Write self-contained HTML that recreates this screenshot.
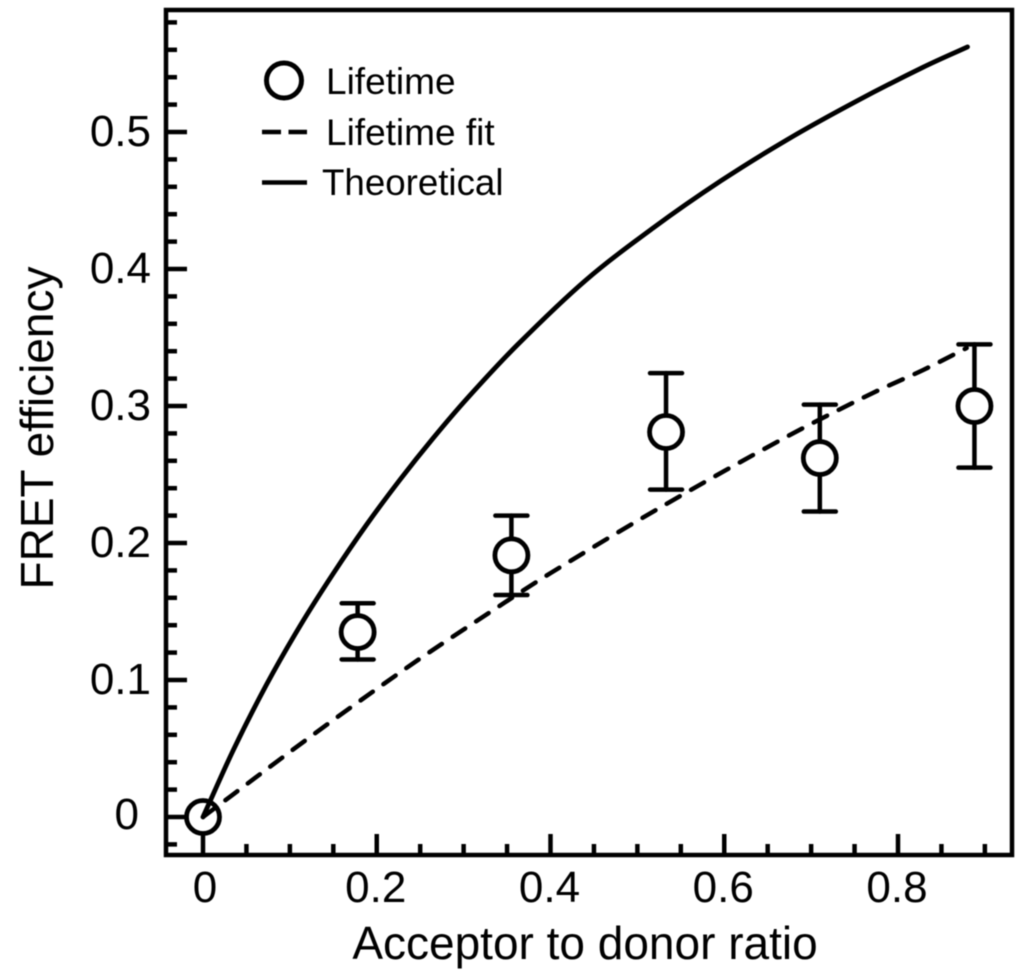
<!DOCTYPE html>
<html lang="en">
<head>
<meta charset="utf-8">
<title>FRET efficiency vs acceptor to donor ratio</title>
<style>
html,body{margin:0;padding:0;background:#fff;width:1024px;height:976px;overflow:hidden}
svg{display:block;filter:blur(0.5px)}
text{font-family:"Liberation Sans",sans-serif;fill:#000}
</style>
</head>
<body>
<svg id="chart" xmlns="http://www.w3.org/2000/svg" width="1024" height="976" viewBox="0 0 1024 976"></svg>
<script>
const xMajorTicks = [0, 0.2, 0.4, 0.6, 0.8];
const xMajorLabels = ["0", "0.2", "0.4", "0.6", "0.8"];
const xMinorTicks = [0.05, 0.1, 0.15, 0.25, 0.3, 0.35, 0.45, 0.5, 0.55, 0.65, 0.7, 0.75, 0.85, 0.9];
const yMajorTicks = [0, 0.1, 0.2, 0.3, 0.4, 0.5];
const yMajorLabels = ["0", "0.1", "0.2", "0.3", "0.4", "0.5"];
const yMinorTicks = [-0.02, 0.02, 0.04, 0.06, 0.08, 0.12, 0.14, 0.16, 0.18, 0.22, 0.24, 0.26, 0.28, 0.32, 0.34, 0.36, 0.38, 0.42, 0.44, 0.46, 0.48, 0.52, 0.54, 0.56, 0.58];

const lifetimeRatio = [0, 0.178, 0.355, 0.533, 0.71, 0.888];
const lifetimeValue = [0, 0.135, 0.191, 0.281, 0.262, 0.300];
const lifetimeUpper = [0, 0.156, 0.220, 0.324, 0.301, 0.345];
const lifetimeLower = [0, 0.115, 0.162, 0.239, 0.223, 0.255];

const fitRatio = [0, 0.1, 0.15, 0.2, 0.253, 0.334, 0.4, 0.532, 0.672, 0.771, 0.829, 0.879];
const fitValue = [0, 0.0475, 0.0708, 0.0935, 0.117, 0.151, 0.178, 0.228, 0.2776, 0.3095, 0.3263, 0.3423];

const theoryRatio = [0, 0.035, 0.073, 0.112, 0.15, 0.188, 0.227, 0.265, 0.304, 0.362, 0.44, 0.518, 0.596, 0.673, 0.751, 0.829, 0.88];
const theoryValue = [0, 0.049, 0.0965, 0.1398, 0.1778, 0.2131, 0.2464, 0.2766, 0.3055, 0.3447, 0.3915, 0.4299, 0.4643, 0.4946, 0.5221, 0.5473, 0.5621];

const NS = "http://www.w3.org/2000/svg";
const svg = document.getElementById("chart");
const xScale = v => 203 + v * 868.75;
const yScale = v => 817 - v * 1370;
const frameLeft = 167, frameRight = 1012, frameTop = 10, frameBottom = 855;

function make(tag, attrs, parent) {
  const el = document.createElementNS(NS, tag);
  for (const k in attrs) el.setAttribute(k, attrs[k]);
  (parent || svg).appendChild(el);
  return el;
}
function smoothPath(xs, ys) {
  const p = xs.map((x, i) => [xScale(x), yScale(ys[i])]);
  const n = p.length;
  const slope = p.map((q, i) => {
    const a = p[Math.max(i - 1, 0)], b = p[Math.min(i + 1, n - 1)];
    return (b[1] - a[1]) / (b[0] - a[0]);
  });
  let d = "M" + p[0][0].toFixed(2) + " " + p[0][1].toFixed(2);
  for (let i = 0; i < n - 1; i++) {
    const h = (p[i + 1][0] - p[i][0]) / 3;
    d += "C" + [p[i][0] + h, p[i][1] + slope[i] * h, p[i + 1][0] - h, p[i + 1][1] - slope[i + 1] * h, p[i + 1][0], p[i + 1][1]].map(v => v.toFixed(2)).join(" ");
  }
  return d;
}

const bg = make("rect", {x: 0, y: 0, width: 1024, height: 976, fill: "#fff"});



const frame = make("rect", {x: frameLeft - 1, y: frameTop, width: frameRight - frameLeft + 1, height: frameBottom - frameTop, fill: "none", stroke: "#000", "stroke-width": 4.5});



const ticks = make("g", {stroke: "#000", "stroke-width": 4.5});


xMajorTicks.forEach(v => make("line", {x1: xScale(v), x2: xScale(v), y1: frameBottom, y2: frameBottom - 21}, ticks));
xMinorTicks.forEach(v => make("line", {x1: xScale(v), x2: xScale(v), y1: frameBottom, y2: frameBottom - 11}, ticks));
yMajorTicks.forEach(v => make("line", {x1: frameLeft, x2: frameLeft + 20, y1: yScale(v), y2: yScale(v)}, ticks));
yMinorTicks.forEach(v => make("line", {x1: frameLeft, x2: frameLeft + 10, y1: yScale(v), y2: yScale(v)}, ticks));

xMajorTicks.forEach((v, i) => {
  const t = make("text", {x: xScale(v) + (v === 0 ? 2 : -1), y: 902, "font-size": 44, "text-anchor": "middle"});
  t.textContent = xMajorLabels[i];
  
  
});
yMajorTicks.forEach((v, i) => {
  const t = make("text", {x: v === 0 ? 139 : 151, y: yScale(v) + (v === 0 ? 12 : 14), "font-size": 44, "text-anchor": "end"});
  t.textContent = yMajorLabels[i];
  
  
});

const xTitle = make("text", {x: 585, y: 959, "font-size": 46, "text-anchor": "middle"});
xTitle.textContent = "Acceptor to donor ratio";



const yTitle = make("text", {x: 0, y: 0, "font-size": 46, "text-anchor": "middle", transform: "translate(53 428) rotate(-90)"});
yTitle.textContent = "FRET efficiency";



lifetimeRatio.forEach((x, i) => {
  if (lifetimeUpper[i] === lifetimeLower[i]) return;
  const g = make("g", {stroke: "#000", "stroke-width": 4.5, fill: "none", "stroke-linecap": "round"});
  
  
  make("line", {x1: xScale(x), x2: xScale(x), y1: yScale(lifetimeUpper[i]), y2: yScale(lifetimeLower[i])}, g);
  make("line", {x1: xScale(x) - 16, x2: xScale(x) + 16, y1: yScale(lifetimeUpper[i]), y2: yScale(lifetimeUpper[i])}, g);
  make("line", {x1: xScale(x) - 16, x2: xScale(x) + 16, y1: yScale(lifetimeLower[i]), y2: yScale(lifetimeLower[i])}, g);
});

lifetimeRatio.forEach((x, i) => {
  const c = make("circle", {cx: xScale(x), cy: yScale(lifetimeValue[i]), r: 16.5, fill: "#fff", stroke: "#000", "stroke-width": 4.8});
  
  
});

const fitLine = make("path", {d: smoothPath(fitRatio, fitValue), fill: "none", stroke: "#000", "stroke-width": 4.5, "stroke-dasharray": "15 13", "stroke-linecap": "round"});



const theoryLine = make("path", {d: smoothPath(theoryRatio, theoryValue), fill: "none", stroke: "#000", "stroke-width": 4.8, "stroke-linecap": "round"});



const legend = make("g", {});


const legendMarker = make("circle", {cx: 284, cy: 80.5, r: 17.5, fill: "#fff", stroke: "#000", "stroke-width": 5}, legend);


const legendDash = make("line", {x1: 262, x2: 307, y1: 132, y2: 132, stroke: "#000", "stroke-width": 4.5, "stroke-dasharray": "19 7.5"}, legend);


const legendSolid = make("line", {x1: 262, x2: 307, y1: 182.5, y2: 182.5, stroke: "#000", "stroke-width": 4.5}, legend);


const legendText1 = make("text", {x: 326, y: 94, "font-size": 37}, legend);
legendText1.textContent = "Lifetime";


const legendText2 = make("text", {x: 326, y: 145, "font-size": 37}, legend);
legendText2.textContent = "Lifetime fit";


const legendText3 = make("text", {x: 322, y: 195, "font-size": 36.7}, legend);
legendText3.textContent = "Theoretical";


</script>
</body>
</html>
